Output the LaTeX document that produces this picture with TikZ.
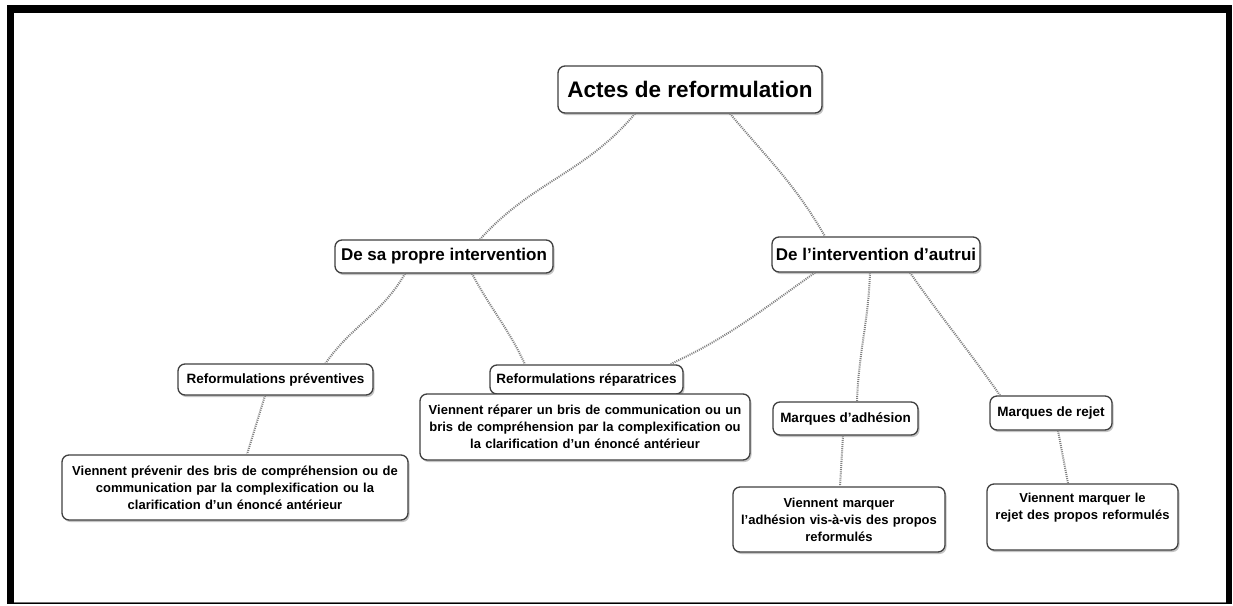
\documentclass[tikz,border=0pt]{standalone}
\usepackage{fontspec}
\setmainfont{Liberation Sans}
\usetikzlibrary{shadows,calc}
\begin{document}
\begin{tikzpicture}[x=1pt,y=-1pt,
  box/.style={draw=black!75, line width=1.3pt, rounded corners=7pt, fill=white,
    drop shadow={shadow xshift=1.5pt, shadow yshift=-2pt, fill=black!45, opacity=0.5},
    inner sep=2pt, align=center, font=\bfseries},
  conn/.style={draw=black!50, line width=2pt, dash pattern=on 1pt off 1.1pt},
  bigtxt/.style={font=\bfseries\fontsize{22.5}{26}\selectfont},
  midtxt/.style={font=\bfseries\fontsize{17}{20}\selectfont},
  smalltxt/.style={font=\bfseries\fontsize{13.5}{17}\selectfont},
  paratxt/.style={font=\bfseries\fontsize{13}{17}\selectfont}]
\useasboundingbox (0,0) rectangle (1233,605);
% frame
\fill[black] (7,5) rectangle (1232,604);
\fill[white] (14,13) rectangle (1226,602);
\draw[black!55, line width=0.8pt] (14,602.5) -- (1226,602.5);
% nodes
\node[box, bigtxt, minimum width=264pt, minimum height=47pt] (root) at (690,89.5) {Actes de reformulation};
\node[box, midtxt, minimum width=218pt, minimum height=33pt] (desa) at (444,256.5) {De sa propre intervention};
\node[box, midtxt, minimum width=208pt, minimum height=35pt] (del) at (876,254.5) {De l'intervention d'autrui};
\node[box, smalltxt, minimum width=195pt, minimum height=31pt] (prev) at (275.5,379.5) {Reformulations préventives};
\node[box, smalltxt, minimum width=193pt, minimum height=29pt] (rep) at (586.5,379.5) {Reformulations réparatrices};
\node[box, paratxt, minimum width=330pt, minimum height=66pt, text width=324pt] (vrep) at (585,427) {Viennent réparer un bris de communication ou un\\bris de compréhension par la complexification ou\\la clarification d'un énoncé antérieur};
\node[box, paratxt, minimum width=346pt, minimum height=65pt, text width=340pt] (vprev) at (235,487.5) {Viennent prévenir des bris de compréhension ou de\\communication par la complexification ou la\\clarification d'un énoncé antérieur};
\node[box, smalltxt, minimum width=145pt, minimum height=33pt] (madh) at (845.5,418.5) {Marques d'adhésion};
\node[box, smalltxt, minimum width=122pt, minimum height=34pt] (mrej) at (1051,413) {Marques de rejet};
\node[box, paratxt, minimum width=212pt, minimum height=65pt, text width=206pt] (vadh) at (839,519.5) {Viennent marquer\\l'adhésion vis-à-vis des propos\\reformulés};
\node[box, paratxt, minimum width=191pt, minimum height=66pt, text width=187pt] (vrej) at (1082.5,517) {Viennent marquer le\\rejet des propos reformulés\\\strut};
% connectors
\draw[conn] ([xshift=-55pt]root.south) to[out=-130,in=48] ([xshift=36pt]desa.north);
\draw[conn] ([xshift=40pt]root.south) to[out=-50,in=120] ([xshift=-51pt]del.north);
\draw[conn] ([xshift=-39pt]desa.south) to[out=-120,in=55] ([xshift=50pt]prev.north);
\draw[conn] ([xshift=28pt]desa.south) to[out=-62,in=115] ([xshift=-61.5pt]rep.north);
\draw[conn] ([xshift=-61pt]del.south) to[out=-145,in=25] ([xshift=83.5pt]rep.north);
\draw[conn] ([xshift=-6pt]del.south) to[out=-92,in=88] ([xshift=11.5pt]madh.north);
\draw[conn] ([xshift=34pt]del.south) to[out=-55,in=125] ([xshift=-51pt]mrej.north);
\draw[conn] ([xshift=-10.5pt]prev.south) -- ([xshift=12pt]vprev.north);
\draw[conn] ([xshift=-2.5pt]madh.south) -- ([xshift=1pt]vadh.north);
\draw[conn] ([xshift=7pt]mrej.south) -- ([xshift=-14.5pt]vrej.north);
\end{tikzpicture}
\end{document}
